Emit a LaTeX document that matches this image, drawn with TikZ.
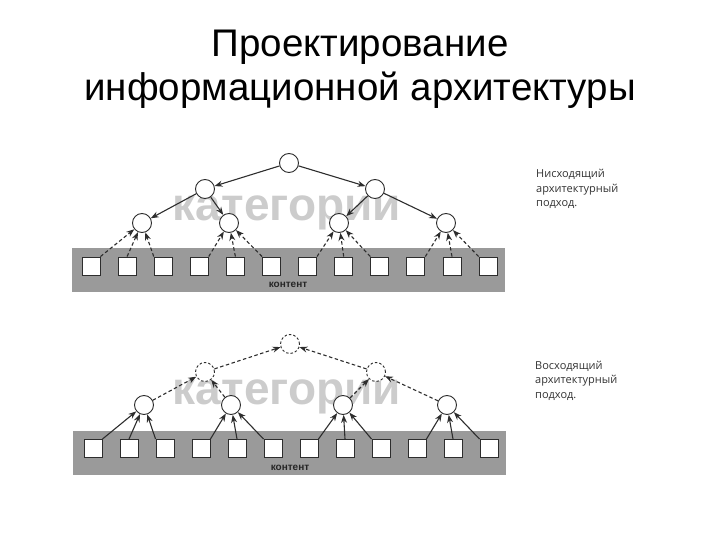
\documentclass[tikz,border=0pt]{standalone}
\usepackage{fontspec}
\setmainfont{Liberation Sans}
\newfontfamily\sidefont{Open Sans}
\usetikzlibrary{arrows.meta}
\definecolor{bandgray}{RGB}{154,154,154}
\definecolor{catgray}{RGB}{204,204,204}
\definecolor{linegray}{RGB}{45,45,45}
\tikzset{
  cnode/.style={circle, draw=linegray, fill=white, minimum size=19pt, inner sep=0pt, line width=0.9pt},
  dnode/.style={cnode, dash pattern=on 2.5pt off 2pt},
  sq/.style={rectangle, draw=linegray, fill=white, minimum size=18pt, inner sep=0pt, line width=0.9pt},
  band/.style={rectangle, fill=bandgray, draw=none, inner sep=0pt, minimum width=433pt, minimum height=44pt},
  arr/.style={-{Stealth[length=8pt,width=6pt]}, draw=linegray, line width=1.1pt},
  darr/.style={arr, dash pattern=on 3.5pt off 2.5pt},
  cattext/.style={anchor=base, font=\bfseries\fontsize{46}{46}\selectfont, text=catgray},
  contenttext/.style={anchor=base, font=\bfseries\fontsize{10}{10}\selectfont, text=black!85},
  sidetext/.style={anchor=base west, inner sep=0pt, font=\sidefont\fontsize{11}{14}\selectfont, text=black!80},
  titletext/.style={anchor=base, inner sep=0pt, font=\fontsize{38.5}{44}\selectfont}
}
\begin{document}
\begin{tikzpicture}[x=1pt,y=-1pt]
\useasboundingbox (0,0) rectangle (720,540);
% title
\node[titletext] (title1) at (360,57) {Проектирование};
\node[titletext] (title2) at (360,101) {информационной архитектуры};

% ===== top diagram (top-down) =====
\node[band] (bandA) at (288.5,270) {};
\node[cattext] (catA) at (287,221) {категории};
\node[contenttext] (contA) at (288,287) {контент};
\foreach \i in {0,...,11} {
  \node[sq] (sA\i) at ({91+36.1*\i},266) {};
}
\node[cnode] (tA1) at (289,163) {};
\node[cnode] (tA2a) at (205,189) {};
\node[cnode] (tA2b) at (375,189) {};
\node[cnode] (tA3a) at (142,223) {};
\node[cnode] (tA3b) at (229,223) {};
\node[cnode] (tA3c) at (339,223) {};
\node[cnode] (tA3d) at (446,223) {};
\draw[arr] (tA1) -- (tA2a);
\draw[arr] (tA1) -- (tA2b);
\draw[arr] (tA2a) -- (tA3a);
\draw[arr] (tA2a) -- (tA3b);
\draw[arr] (tA2b) -- (tA3c);
\draw[arr] (tA2b) -- (tA3d);
\foreach \g/\c in {0/tA3a,1/tA3b,2/tA3c,3/tA3d} {
  \pgfmathtruncatemacro{\ia}{3*\g}
  \pgfmathtruncatemacro{\ib}{3*\g+1}
  \pgfmathtruncatemacro{\ic}{3*\g+2}
  \draw[darr] (sA\ia.north east) -- (\c);
  \draw[darr] (sA\ib.north) -- (\c);
  \draw[darr] (sA\ic.north west) -- (\c);
}
\node[sidetext] (descA1) at (536,178) {Нисходящий};
\node[sidetext] (descA2) at (536,192.5) {архитектурный};
\node[sidetext] (descA3) at (536,207) {подход.};

% ===== bottom diagram (bottom-up) =====
\node[band] (bandB) at (289.5,452.5) {};
\node[cattext] (catB) at (287,404) {категории};
\node[contenttext] (contB) at (290,470) {контент};
\foreach \i in {0,...,11} {
  \node[sq] (sB\i) at ({93+36*\i},448.5) {};
}
\node[dnode] (tB1) at (290,344) {};
\node[dnode] (tB2a) at (205,372) {};
\node[dnode] (tB2b) at (376,372) {};
\node[cnode] (tB3a) at (144,405) {};
\node[cnode] (tB3b) at (231,405) {};
\node[cnode] (tB3c) at (343,405) {};
\node[cnode] (tB3d) at (447,405) {};
\draw[darr] (tB2a) -- (tB1);
\draw[darr] (tB2b) -- (tB1);
\draw[darr] (tB3a) -- (tB2a);
\draw[darr] (tB3b) -- (tB2a);
\draw[darr] (tB3c) -- (tB2b);
\draw[darr] (tB3d) -- (tB2b);
\foreach \g/\c in {0/tB3a,1/tB3b,2/tB3c,3/tB3d} {
  \pgfmathtruncatemacro{\ia}{3*\g}
  \pgfmathtruncatemacro{\ib}{3*\g+1}
  \pgfmathtruncatemacro{\ic}{3*\g+2}
  \draw[arr] (sB\ia.north east) -- (\c);
  \draw[arr] (sB\ib.north) -- (\c);
  \draw[arr] (sB\ic.north west) -- (\c);
}
\node[sidetext] (descB1) at (535,369) {Восходящий};
\node[sidetext] (descB2) at (535,383.5) {архитектурный};
\node[sidetext] (descB3) at (535,398) {подход.};
\end{tikzpicture}
\end{document}
